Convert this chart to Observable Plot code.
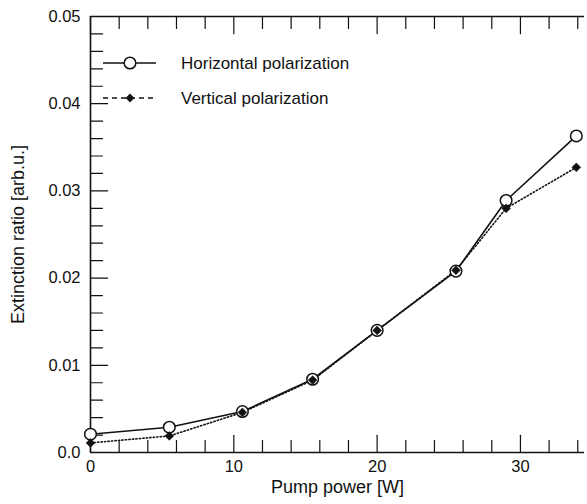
<!DOCTYPE html>
<html>
<head>
<meta charset="utf-8">
<script src="https://cdn.jsdelivr.net/npm/d3@7"></script>
<script src="https://cdn.jsdelivr.net/npm/@observablehq/plot@0.6"></script>
<style>
  html, body { margin: 0; padding: 0; background: #fff; }
  svg { display: block; }
</style>
</head>
<body>
<div id="chart"></div>
<script>
// Data
const pumpH = [0, 5.5, 10.6, 15.5, 20.0, 25.5, 29.0, 33.9];
const ratioH = [0.0021, 0.0029, 0.0047, 0.0084, 0.0140, 0.0208, 0.0289, 0.0363];
const pumpV = [0, 5.5, 10.6, 15.5, 20.0, 25.5, 29.0, 33.9];
const ratioV = [0.0011, 0.0019, 0.0046, 0.0083, 0.0140, 0.0209, 0.0280, 0.0327];

const xTicks = [0, 10, 20, 30];
const xMinor = [0, 2, 4, 6, 8, 10, 12, 14, 16, 18, 20, 22, 24, 26, 28, 30, 32, 34];
const yTicks = [0, 0.01, 0.02, 0.03, 0.04, 0.05];
const yTickLabels = ["0.0", "0.01", "0.02", "0.03", "0.04", "0.05"];
const yMinor = d3.range(0, 26).map(i => +(i * 0.002).toFixed(3));

const seriesNames = ["Horizontal polarization", "Vertical polarization"];
const xLabel = "Pump power [W]";
const yLabel = "Extinction ratio [arb.u.]";

const H = pumpH.map((x, i) => ({x, y: ratioH[i]}));
const V = pumpV.map((x, i) => ({x, y: ratioV[i]}));

const font = "'Liberation Sans', Arial, Helvetica, sans-serif";

// plain tick line shape for Plot.vector (no arrowhead)
const tickShape = {draw(ctx, l) { ctx.moveTo(0, 0); ctx.lineTo(0, -l); }};

const plot = Plot.plot({
  width: 587,
  height: 504,
  marginLeft: 90,
  marginRight: 3,
  marginTop: 16,
  marginBottom: 52,
  style: {fontFamily: font, fontSize: "16px", color: "#111", background: "#fff"},
  x: {domain: [0, 34.47], range: [90, 584]},
  y: {domain: [0, 0.05], range: [452, 16]},
  marks: [
    Plot.axisX({ticks: xTicks, tickSize: 0, tickPadding: 8, label: null, fontSize: 16.5}),
    Plot.axisY({ticks: yTicks, tickSize: 0, tickPadding: 10, label: null, fontSize: 16.5,
      tickFormat: d => yTickLabels[yTicks.indexOf(d)]}),
    // frame (left, bottom, top)
    Plot.ruleX([0], {stroke: "#111", strokeWidth: 1.6}),
    Plot.ruleY([0, 0.05], {stroke: "#111", strokeWidth: 1.6}),
    // inward ticks
    Plot.vector(yMinor, {x: 0, y: d => d, rotate: 90, anchor: "start", shape: tickShape,
      length: d => (Math.round(d * 1000) % 10 === 0 ? 5 : 3.5), stroke: "#111", strokeWidth: 1.2}),
    Plot.vector(xMinor, {x: d => d, y: 0, rotate: 0, anchor: "start", shape: tickShape,
      length: d => (d % 10 === 0 ? 5 : 3.5), stroke: "#111", strokeWidth: 1.2}),
    Plot.vector(xMinor, {x: d => d, y: 0.05, rotate: 180, anchor: "start", shape: tickShape,
      length: d => (d % 10 === 0 ? 5 : 3.5), stroke: "#111", strokeWidth: 1.2}),
    // series
    Plot.line(H, {x: "x", y: "y", stroke: "#111", strokeWidth: 1.6}),
    Plot.line(V, {x: "x", y: "y", stroke: "#111", strokeWidth: 1.6, strokeDasharray: "1.3,2.2"}),
    Plot.dot(H, {x: "x", y: "y", r: 5.8, fill: "#fff", stroke: "#111", strokeWidth: 1.5}),
    Plot.dot(V, {x: "x", y: "y", r: 4, symbol: "diamond2", fill: "#111", stroke: "#111", strokeWidth: 0.5}),
    // axis labels
    Plot.text([xLabel], {frameAnchor: "bottom", dy: 35, textAnchor: "middle", lineAnchor: "middle", fontSize: 18, fill: "#111"}),
    Plot.text([yLabel], {frameAnchor: "left", dx: -72, rotate: -90, textAnchor: "middle", lineAnchor: "middle", fontSize: 18, fill: "#111"})
  ]
});

document.getElementById("chart").appendChild(plot);

// Legend inside the plot area
const svg = d3.select(plot);
const lg = svg.append("g").attr("font-family", font).attr("font-size", 17)
  .attr("fill", "#111").attr("text-anchor", "start");
const rows = [
  {name: seriesNames[0], dash: null, sym: "circle"},
  {name: seriesNames[1], dash: "5,4", sym: "diamond"}
];
rows.forEach((r, i) => {
  const cy = 63 + i * 35;
  lg.append("line").attr("x1", 103).attr("x2", 156).attr("y1", cy).attr("y2", cy)
    .attr("stroke", "#111").attr("stroke-width", 1.5)
    .attr("stroke-dasharray", r.dash);
  if (r.sym === "circle") {
    lg.append("circle").attr("cx", 130).attr("cy", cy).attr("r", 5.8)
      .attr("fill", "#fff").attr("stroke", "#111").attr("stroke-width", 1.5);
  } else {
    lg.append("path").attr("transform", `translate(130,${cy})`)
      .attr("d", d3.symbol(d3.symbolDiamond2, 50)())
      .attr("fill", "#111");
  }
  lg.append("text").attr("x", 181).attr("y", cy).attr("dy", "0.35em").text(r.name);
});
</script>
</body>
</html>
